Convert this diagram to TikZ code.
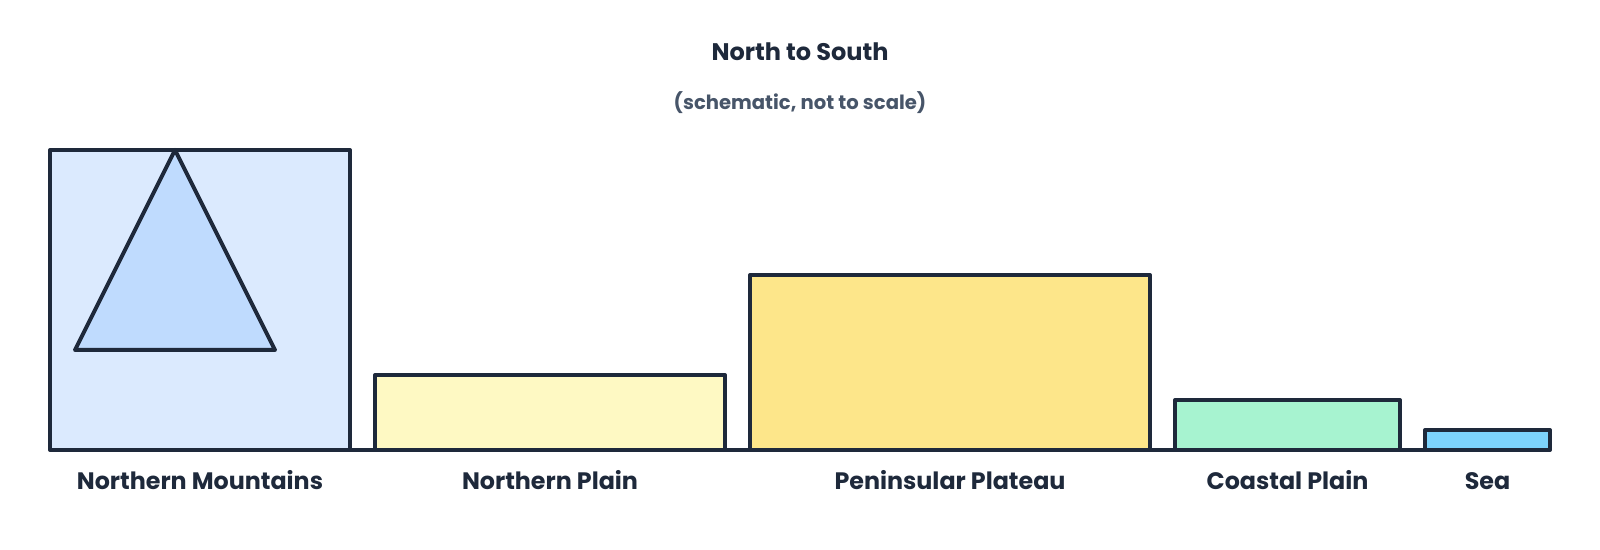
\documentclass[tikz,border=0pt]{standalone}
\usepackage{fontspec}
\setmainfont{Poppins}
\usetikzlibrary{positioning}

\definecolor{ink}{HTML}{1E293B}
\definecolor{subink}{HTML}{475569}
\definecolor{mtnfill}{HTML}{DBEAFE}
\definecolor{peakfill}{HTML}{BFDBFE}
\definecolor{plainfill}{HTML}{FEF9C3}
\definecolor{plateaufill}{HTML}{FDE68A}
\definecolor{coastfill}{HTML}{A7F3D0}
\definecolor{seafill}{HTML}{7DD3FC}

\begin{document}
\begin{tikzpicture}[x=0.5pt,y=-0.5pt,line join=round,
    region/.style={draw=ink,line width=2pt,inner sep=0pt,outer sep=0pt,anchor=south west},
    band label/.style={anchor=base,text=ink,font=\bfseries\fontsize{11.9}{14}\selectfont}]

    \useasboundingbox (0,0) rectangle (1600,550);

    % heading
    \node[anchor=base,text=ink,font=\bfseries\fontsize{12}{14}\selectfont] (title) at (800,61) {North to South};
    \node[anchor=base,text=subink,font=\bfseries\fontsize{9.8}{12}\selectfont] (subtitle) at (800,110) {(schematic, not to scale)};

    % bands, north to south
    \node[region,fill=mtnfill,minimum width=150pt,minimum height=150pt] (mtn) at (50,450) {};
    \node[region,fill=plainfill,minimum width=175pt,minimum height=37.5pt] (plain) at (375,450) {};
    \node[region,fill=plateaufill,minimum width=200pt,minimum height=87.5pt] (plateau) at (750,450) {};
    \node[region,fill=coastfill,minimum width=112.5pt,minimum height=25pt] (coast) at (1175,450) {};
    \node[region,fill=seafill,minimum width=62.5pt,minimum height=10pt] (sea) at (1425,450) {};

    % peak
    \draw[draw=ink,line width=2pt,fill=peakfill] (mtn.north west) ++(125,0) coordinate (peak)
        -- (75,350) -- (275,350) -- cycle;

    % ground line between the bands
    \draw[draw=ink,line width=2pt] (mtn.south east) -- (plain.south west)
        (plain.south east) -- (plateau.south west)
        (plateau.south east) -- (coast.south west)
        (coast.south east) -- (sea.south west);

    % labels
    \node[band label] (mtnlabel) at ([yshift=-19.5pt]mtn.south) {Northern Mountains};
    \node[band label] (plainlabel) at ([yshift=-19.5pt]plain.south) {Northern Plain};
    \node[band label] (plateaulabel) at ([yshift=-19.5pt]plateau.south) {Peninsular Plateau};
    \node[band label] (coastlabel) at ([yshift=-19.5pt]coast.south) {Coastal Plain};
    \node[band label] (sealabel) at ([yshift=-19.5pt]sea.south) {Sea};
\end{tikzpicture}
\end{document}
